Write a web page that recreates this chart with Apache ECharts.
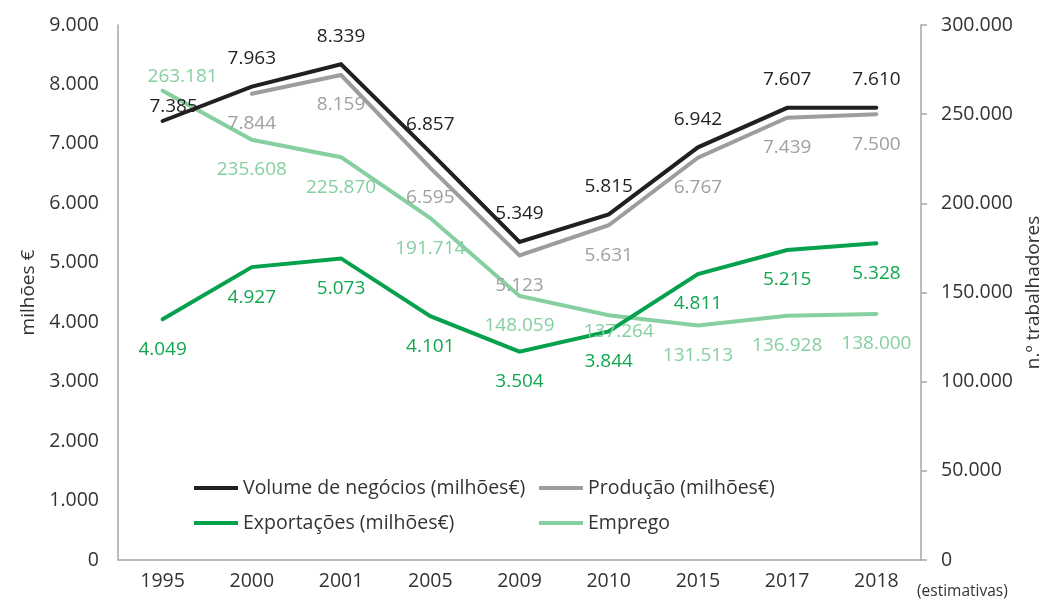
<!DOCTYPE HTML>
<html>
<head>
    <meta http-equiv="Content-Type" content="text/html; charset=UTF-8"/>
    <script type="text/javascript" src="https://cdn.jsdelivr.net/npm/echarts@6/dist/echarts.min.js"></script>
    <style type="text/css">
        html, body { margin: 0; padding: 0; background: #fff; }
    </style>
</head>
<body>
<div id="main" style="width: 1041px; height: 600px;"></div>
<script type="text/javascript">
    // dados
    var anos = ['1995', '2000', '2001', '2005', '2009', '2010', '2015', '2017', '2018'];
    var volume = [7385, 7963, 8339, 6857, 5349, 5815, 6942, 7607, 7610];
    var producao = [null, 7844, 8159, 6595, 5123, 5631, 6767, 7439, 7500];
    var exportacoes = [4049, 4927, 5073, 4101, 3504, 3844, 4811, 5215, 5328];
    var emprego = [263181, 235608, 225870, 191714, 148059, 137264, 131513, 136928, 138000];
    var ticksEsq = [0, 1000, 2000, 3000, 4000, 5000, 6000, 7000, 8000, 9000];
    var ticksDir = [0, 50000, 100000, 150000, 200000, 250000, 300000];

    var fonte = '"Open Sans", "Noto Sans", sans-serif';

    function fmt(v) {
        return String(v).replace(/\B(?=(\d{3})+(?!\d))/g, '.');
    }

    // ajustes pontuais das etiquetas (posição como no original)
    var ajustes = {
        volume: {0: {position: 'top', distance: 4, offset: [11, 0]}},
        emprego: {
            0: {position: 'top', distance: 4, offset: [20, 0]},
            5: {position: 'bottom', distance: 6, offset: [10, 0]}
        }
    };

    function pontos(arr, chave) {
        return arr.map(function (v, i) {
            var p = {value: v === null ? '-' : v};
            if (ajustes[chave] && ajustes[chave][i]) p.label = ajustes[chave][i];
            return p;
        });
    }

    function serie(nome, dados, chave, cor, corLabel, pos, dist, eixo) {
        return {
            name: nome,
            type: 'line',
            yAxisIndex: eixo,
            data: pontos(dados, chave),
            symbol: 'circle',
            symbolSize: 1,
            connectNulls: false,
            lineStyle: {color: cor, width: 4, cap: 'round', join: 'miter'},
            itemStyle: {color: cor},
            label: {
                show: true,
                position: pos,
                distance: dist,
                color: corLabel,
                fontSize: 19,
                fontFamily: fonte,
                formatter: function (p) { return fmt(p.value); }
            },
            emphasis: {disabled: true},
            animation: false
        };
    }

    var myChart = echarts.init(document.getElementById('main'));

    var legendaBase = {
        orient: 'vertical',
        top: 478,
        padding: 0,
        itemWidth: 44, itemHeight: 4, itemGap: 15,
        icon: 'rect',
        textStyle: {fontSize: 19.5, color: '#333', fontFamily: fonte}
    };

    var option = {
        backgroundColor: '#fff',
        animation: false,
        grid: {left: 118, right: 120, top: 25, bottom: 40, containLabel: false, outerBoundsMode: 'none'},
        legend: [
            Object.assign({}, legendaBase, {left: 194, data: ['Volume de negócios (milhões€)', 'Exportações (milhões€)']}),
            Object.assign({}, legendaBase, {left: 539, data: ['Produção (milhões€)', 'Emprego']})
        ],
        xAxis: {
            type: 'category',
            data: anos,
            boundaryGap: true,
            axisLine: {lineStyle: {color: '#a6a6a6', width: 1.5}},
            axisTick: {show: false},
            axisLabel: {fontSize: 19.5, color: '#333', fontFamily: fonte, margin: 11}
        },
        yAxis: [{
            type: 'value',
            min: 0, max: 9000, interval: 1000,
            name: 'milhões €',
            nameLocation: 'middle',
            nameRotate: 90,
            nameGap: 80,
            nameTextStyle: {fontSize: 19, color: '#333', fontFamily: fonte},
            axisLine: {show: true, lineStyle: {color: '#a6a6a6', width: 1.5}},
            axisTick: {show: false},
            splitLine: {show: false},
            axisLabel: {
                fontSize: 19.5, color: '#333', fontFamily: fonte, margin: 19,
                formatter: function (v) { return ticksEsq.indexOf(v) >= 0 ? fmt(v) : ''; }
            }
        }, {
            type: 'value',
            min: 0, max: 300000, interval: 50000,
            position: 'right',
            name: 'n.º trabalhadores',
            nameLocation: 'middle',
            nameRotate: 90,
            nameGap: 96,
            nameTextStyle: {fontSize: 19, color: '#333', fontFamily: fonte},
            axisLine: {show: true, lineStyle: {color: '#a6a6a6', width: 1.5}},
            axisTick: {show: true, inside: false, length: 6, lineStyle: {color: '#a6a6a6', width: 1.5}},
            splitLine: {show: false},
            axisLabel: {
                fontSize: 19.5, color: '#333', fontFamily: fonte, margin: 20,
                formatter: function (v) { return ticksDir.indexOf(v) >= 0 ? fmt(v) : ''; }
            }
        }],
        graphic: [{
            type: 'text',
            left: 917, top: 584,
            style: {text: '(estimativas)', fontSize: 15.5, fill: '#333', fontFamily: fonte}
        }],
        series: [
            serie('Emprego', emprego, 'emprego', '#86cfa0', '#86cfa0', 'bottom', 20, 1),
            serie('Exportações (milhões€)', exportacoes, 'exportacoes', '#05a14c', '#10a84f', 'bottom', 20, 0),
            serie('Produção (milhões€)', producao, 'producao', '#9d9d9f', '#a0a0a2', 'bottom', 20, 0),
            serie('Volume de negócios (milhões€)', volume, 'volume', '#231f20', '#231f20', 'top', 18, 0)
        ]
    };

    myChart.setOption(option);
</script>
</body>
</html>
